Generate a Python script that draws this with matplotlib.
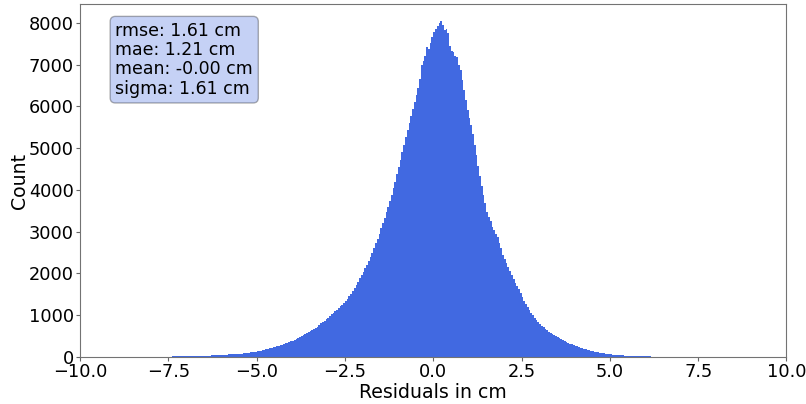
import numpy as np
import matplotlib
matplotlib.use("Agg")
import matplotlib.pyplot as plt

# Histogram of residuals: bin counts (bin width 0.05 cm, starting at -9.0 cm)
bin_start = -9.0
bin_width = 0.05
counts = [
    2, 3, 3, 3, 3, 4, 4, 4, 4, 4,                      # -9.0 .. -8.5
    4, 5, 5, 5, 6, 6, 6, 7, 7, 7,                      # -8.5 .. -8.0
    7, 8, 8, 9, 9, 10, 10, 11, 11, 12,                 # -8.0 .. -7.5
    12, 12, 13, 14, 14, 15, 16, 17, 17, 18,            # -7.5 .. -7.0
    19, 20, 21, 22, 23, 24, 25, 27, 28, 30,            # -7.0 .. -6.5
    31, 33, 34, 36, 38, 40, 42, 44, 46, 48,            # -6.5 .. -6.0
    50, 52, 55, 58, 61, 63, 66, 70, 73, 77,            # -6.0 .. -5.5
    80, 84, 89, 94, 99, 105, 111, 117, 123, 130,       # -5.5 .. -5.0
    137, 145, 152, 162, 172, 183, 193, 205, 218, 232,  # -5.0 .. -4.5
    245, 256, 270, 285, 298, 313, 328, 345, 362, 380,  # -4.5 .. -4.0
    395, 414, 432, 452, 474, 496, 520, 546, 572, 600,  # -4.0 .. -3.5
    625, 648, 672, 700, 728, 770, 805, 838, 872, 910,  # -3.5 .. -3.0
    945, 982, 1018, 1052, 1090, 1128, 1168, 1210, 1255, 1300,  # -3.0 .. -2.5
    1350, 1398, 1450, 1520, 1585, 1650, 1725, 1800, 1880, 1960,  # -2.5 .. -2.0
    2040, 2120, 2210, 2300, 2400, 2500, 2610, 2720, 2830, 2950,  # -2.0 .. -1.5
    3080, 3200, 3330, 3460, 3600, 3740, 3880, 4050, 4200, 4380,  # -1.5 .. -1.0
    4560, 4720, 4900, 5080, 5260, 5430, 5600, 5760, 5930, 6100,  # -1.0 .. -0.5
    6280, 6450, 6650, 7000, 7080, 7200, 7420, 7380, 7510, 7650,  # -0.5 .. 0.0
    7790, 7850, 7920, 7990, 8050, 7940, 7830, 7850, 7760, 7450,  # 0.0 .. 0.5
    7320, 7300, 7200, 7190, 6980, 6870, 6640, 6400, 6150, 5920,  # 0.5 .. 1.0
    5720, 5560, 5330, 5080, 4830, 4580, 4330, 4100, 3880, 3680,  # 1.0 .. 1.5
    3480, 3360, 3250, 3120, 3040, 2950, 2880, 2720, 2600, 2440,  # 1.5 .. 2.0
    2350, 2250, 2160, 2060, 1960, 1860, 1780, 1700, 1620, 1540,  # 2.0 .. 2.5
    1440, 1350, 1270, 1200, 1130, 1060, 1000, 940, 880, 830,     # 2.5 .. 3.0
    790, 748, 710, 672, 640, 605, 575, 548, 520, 495,            # 3.0 .. 3.5
    470, 448, 428, 405, 380, 358, 338, 318, 300, 284,            # 3.5 .. 4.0
    268, 252, 238, 222, 208, 195, 182, 170, 158, 148,            # 4.0 .. 4.5
    138, 128, 119, 111, 103, 96, 89, 82, 76, 70,                 # 4.5 .. 5.0
    65, 60, 56, 52, 48, 44, 41, 38, 35, 32,                      # 5.0 .. 5.5
    30, 28, 26, 24, 22, 21, 19, 18, 17, 16,                      # 5.5 .. 6.0
    15, 14, 13, 12, 11, 11, 10, 9, 9, 8,                         # 6.0 .. 6.5
    8, 7, 7, 6, 6, 6, 5, 5, 5, 4,                                # 6.5 .. 7.0
    4, 4, 4, 3, 3, 3, 3, 3, 2, 3,                                # 7.0 .. 7.5
    2, 2, 3, 2, 2, 2, 1, 2, 2, 1,                                # 7.5 .. 8.0
]
stats_lines = ["rmse: 1.61 cm", "mae: 1.21 cm", "mean: -0.00 cm", "sigma: 1.61 cm"]
x_label = "Residuals in cm"
y_label = "Count"
x_range = (-10.0, 10.0)

edges = bin_start + bin_width * np.arange(len(counts) + 1)

fig = plt.figure(figsize=(8.06, 4.04), dpi=100)
ax = fig.add_axes([0.0993, 0.1163, 0.8765, 0.874])
ax.stairs(counts, edges, fill=True, color="royalblue", linewidth=0)
ax.set_xlim(*x_range)
ax.set_ylim(0, max(counts) * 1.05)

ax.set_xlabel(x_label, fontsize=13.6, labelpad=1)
ax.set_ylabel(y_label, fontsize=13.6, labelpad=0)
ax.tick_params(labelsize=12.8, color="0.4", length=3, pad=1.5)
for s in ax.spines.values():
    s.set_color("0.45")
    s.set_linewidth(0.8)

ax.text(0.05, 0.95, "\n".join(stats_lines), transform=ax.transAxes,
        fontsize=12.5, va="top", ha="left", linespacing=1.1,
        bbox=dict(boxstyle="round", facecolor="royalblue", alpha=0.3))

fig.savefig("out.png", dpi=100)
